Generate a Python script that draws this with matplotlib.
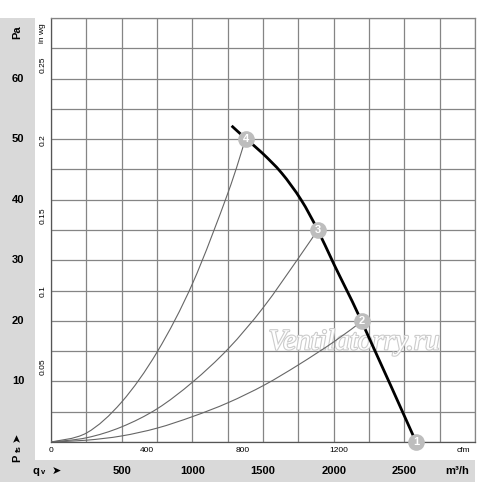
import matplotlib.pyplot as plt
import matplotlib.patheffects as pe
from matplotlib.patches import Rectangle, PathPatch
from matplotlib.path import Path

# fan curve, m3/h vs Pa
fan_q = [1278, 1377, 1495, 1632, 1769, 1887, 2005, 2198, 2583]
fan_p = [52.2, 50.1, 47.7, 44.4, 40.0, 35.0, 29.2, 19.9, 0.0]

# system curves ending in operating points 4, 3, 2
sys4_q = [0, 252, 500, 752, 1002, 1250, 1377]
sys4_p = [0, 1.5, 6.6, 14.9, 26.2, 41.0, 50.1]
sys3_q = [0, 252, 500, 752, 1002, 1254, 1502, 1755, 1887]
sys3_p = [0, 0.7, 2.5, 5.5, 9.9, 15.4, 22.2, 30.5, 35.0]
sys2_q = [0, 252, 500, 752, 1002, 1254, 1509, 1755, 2005, 2198]
sys2_p = [0, 0.3, 1.0, 2.3, 4.2, 6.5, 9.4, 12.8, 16.6, 19.9]

op_labels = ['1', '2', '3', '4']
op_q = [2583, 2198, 1887, 1377]
op_p = [0.0, 19.9, 35.0, 50.1]

pa_ticks = [10, 20, 30, 40, 50, 60]
inwg_ticks = [0.05, 0.1, 0.15, 0.2, 0.25]
cfm_ticks = [0, 400, 800, 1200]
m3h_ticks = [500, 1000, 1500, 2000, 2500]

W, H = 500, 483
plt.rcParams['font.family'] = ['Liberation Sans', 'DejaVu Sans']

fig = plt.figure(figsize=(W / 100, H / 100), dpi=100)


def fx(px):
    return px / W


def fy(py):
    return 1 - py / H


def smooth(xs, ys):
    # bezier path through the read points (catmull-rom tangents)
    pts = list(zip(xs, ys))
    n = len(pts)
    verts = [pts[0]]
    codes = [Path.MOVETO]
    for i in range(n - 1):
        a = pts[max(i - 1, 0)]
        b = pts[i]
        c = pts[i + 1]
        d = pts[min(i + 2, n - 1)]
        c1 = (b[0] + (c[0] - a[0]) / 6, b[1] + (c[1] - a[1]) / 6)
        c2 = (c[0] - (d[0] - b[0]) / 6, c[1] - (d[1] - b[1]) / 6)
        verts += [c1, c2, c]
        codes += [Path.CURVE4] * 3
    return Path(verts, codes)


band = '#d9d9d9'
fig.patches.append(Rectangle((0, fy(460)), fx(35), (460 - 18) / H, transform=fig.transFigure,
                             facecolor=band, edgecolor='none', zorder=0))
fig.patches.append(Rectangle((0, fy(482)), fx(475), 22 / H, transform=fig.transFigure,
                             facecolor=band, edgecolor='none', zorder=0))

ax = fig.add_axes([fx(51), fy(442), fx(475) - fx(51), (442 - 18) / H])
ax.set_xlim(0, 3000)
ax.set_ylim(0, 70)
ax.set_xticks(range(0, 3001, 250))
ax.set_yticks(range(0, 71, 5))
ax.tick_params(length=0, labelbottom=False, labelleft=False)
ax.grid(True, color='#858585', lw=0.9)
for s in ax.spines.values():
    s.set_color('#858585')
    s.set_linewidth(0.9)
ax.spines['left'].set_color('#555555')
ax.spines['bottom'].set_color('#555555')

gc = '#666666'
for q, p in [(sys4_q, sys4_p), (sys3_q, sys3_p), (sys2_q, sys2_p)]:
    ax.add_patch(PathPatch(smooth(q, p), fill=False, edgecolor=gc, lw=0.8, zorder=3))
ax.add_patch(PathPatch(smooth(fan_q, fan_p), fill=False, edgecolor='black', lw=2, zorder=4,
                       clip_on=False))

ax.plot(op_q, op_p, 'o', ms=12, color='#bdbdbd', mec='none', zorder=5, clip_on=False)
for lab, q, p in zip(op_labels, op_q, op_p):
    ax.text(q, p, lab, color='white', fontsize=8, fontweight='bold', ha='center', va='center',
            zorder=6, clip_on=False)

ax.text(0.715, 0.235, 'Ventilatorry.ru', transform=ax.transAxes, family='Liberation Serif',
        style='italic', fontsize=21, color='white', ha='center', va='center', zorder=2,
        path_effects=[pe.Stroke(linewidth=1.6, foreground='#cccccc'), pe.Normal()])

# left scales
for v in pa_ticks:
    fig.text(fx(18), fy(442) + v / 70 * (442 - 18) / H, str(v), fontsize=8, fontweight='bold',
             ha='center', va='center')
fig.text(fx(17), fy(32), 'Pa', fontsize=8, fontweight='bold', rotation=90, ha='center', va='center')
for v in inwg_ticks:
    pa = v * 249.09
    fig.text(fx(43), fy(442) + pa / 70 * (442 - 18) / H, '%g' % v, fontsize=6, rotation=90,
             ha='center', va='center')
fig.text(fx(43), fy(33), 'in wg', fontsize=6, rotation=90, ha='center', va='center')

fig.text(fx(17), fy(458), 'P', fontsize=8, fontweight='bold', rotation=90, ha='center', va='center')
fig.text(fx(19), fy(449), 'fs', fontsize=5.5, fontweight='bold', rotation=90, ha='center', va='center')
fig.text(fx(17), fy(437), '\u27a4', fontsize=8, rotation=90, ha='center', va='center',
         family='DejaVu Sans')

# bottom scales
for v in cfm_ticks:
    q = v / 0.5886
    fig.text(fx(51) + q / 3000 * (475 - 51) / W, fy(451), str(v), fontsize=6, ha='center', va='center')
fig.text(fx(463), fy(451), 'cfm', fontsize=6, ha='center', va='center')
for v in m3h_ticks:
    fig.text(fx(51) + v / 3000 * (475 - 51) / W, fy(471), str(v), fontsize=8, fontweight='bold',
             ha='center', va='center')
fig.text(fx(457), fy(471), 'm\u00b3/h', fontsize=8, fontweight='bold', ha='center', va='center')
fig.text(fx(36), fy(471), 'q', fontsize=8, fontweight='bold', ha='center', va='center')
fig.text(fx(43), fy(473), 'v', fontsize=5.5, fontweight='bold', ha='center', va='center')
fig.text(fx(56), fy(471), '\u27a4', fontsize=8, ha='center', va='center', family='DejaVu Sans')

fig.savefig('out.png', dpi=100)
